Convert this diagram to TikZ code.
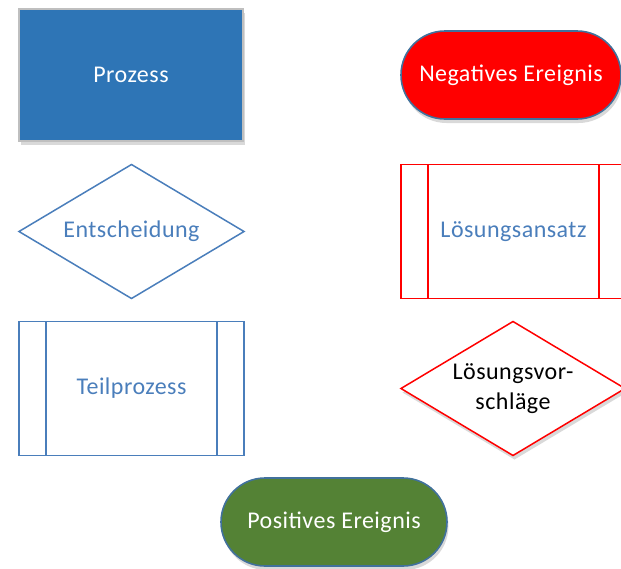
\documentclass[tikz,border=0pt]{standalone}
\usepackage{fontspec}
\setmainfont{Carlito}[LetterSpace=2]
\usetikzlibrary{shapes.geometric,shapes.misc,shadows}
\definecolor{procblue}{RGB}{46,117,182}
\definecolor{lineblue}{RGB}{74,126,187}
\definecolor{pillborder}{RGB}{65,113,156}
\definecolor{posgreen}{RGB}{84,130,53}
\definecolor{shapered}{RGB}{255,0,0}
\tikzset{
  x=1pt, y=-1pt,
  every node/.style={font=\fontsize{24}{30}\selectfont, inner sep=0pt, outer sep=0pt},
  softshadow/.style={drop shadow={shadow xshift=1.5pt, shadow yshift=-4pt, opacity=0.15, fill=black}},
  procbox/.style={rectangle, fill=procblue, draw=black!25, line width=1.6pt, text=white, minimum width=224pt, minimum height=132pt, softshadow},
  pill/.style={rounded rectangle, draw=pillborder, line width=1.6pt, text=white, minimum width=224pt, minimum height=88pt, softshadow},
  bluediamond/.style={diamond, aspect=1.67, draw=lineblue, line width=1.5pt, text=lineblue, minimum width=225pt, minimum height=134pt},
  reddiamond/.style={diamond, aspect=1.67, draw=shapered, line width=1.5pt, text=black, align=center, minimum width=224pt, minimum height=134pt, fill=white, softshadow},
  subbox/.style={rectangle, line width=1.5pt, text=lineblue, minimum width=225pt, minimum height=134pt},
}
\begin{document}
\begin{tikzpicture}
\useasboundingbox (0,0) rectangle (621,568);
% row 1
\node[procbox] (prozess) at (131,75) {Prozess};
\node[pill, fill=shapered, minimum width=220pt] (neg) at (511,75) {Negatives Ereignis};
% row 2
\node[bluediamond] (ent) at (131.5,231.5) {Entscheidung};
\node[subbox, draw=shapered] (ansatz) at (513.5,231.5) {Lösungsansatz};
\draw[shapered, line width=1.5pt] ([xshift=27pt]ansatz.north west) -- ([xshift=27pt]ansatz.south west);
\draw[shapered, line width=1.5pt] ([xshift=-27pt]ansatz.north east) -- ([xshift=-27pt]ansatz.south east);
% row 3
\node[subbox, draw=lineblue] (teil) at (131.5,388.5) {Teilprozess};
\draw[lineblue, line width=1.5pt] ([xshift=27pt]teil.north west) -- ([xshift=27pt]teil.south west);
\draw[lineblue, line width=1.5pt] ([xshift=-27pt]teil.north east) -- ([xshift=-27pt]teil.south east);
\node[reddiamond] (vor) at (513,388.5) {Lösungsvor-\\schläge};
% row 4
\node[pill, fill=posgreen, minimum width=226pt] (pos) at (334,522) {Positives Ereignis};
\end{tikzpicture}
\end{document}
